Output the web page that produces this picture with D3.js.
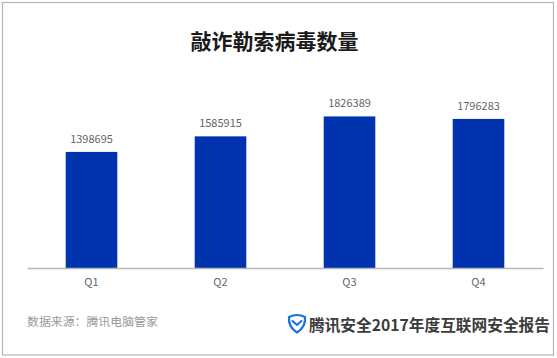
<!DOCTYPE html>
<html><head><meta charset="utf-8">
<script src="https://cdn.jsdelivr.net/npm/d3@7/dist/d3.min.js"></script>
<style>html,body{margin:0;padding:0;background:#fff}svg{display:block}</style>
</head><body><svg id="c" width="557" height="358"></svg>
<script>
const categories = ["Q1","Q2","Q3","Q4"];
const values = [1398695,1585915,1826389,1796283];
const titleText = "敲诈勒索病毒数量";
const sourceText = "数据来源：腾讯电脑管家";
const reportText = "腾讯安全2017年度互联网安全报告";
const cjk = '"Noto Sans CJK SC","Noto Sans",sans-serif';

const svg = d3.select("#c");
svg.append("rect").attr("x",2.5).attr("y",2.5).attr("width",551).attr("height",352.5)
  .attr("fill","#fff").attr("stroke","#b4b4b4").attr("stroke-width",1.2);

const x = d3.scaleBand().domain(categories).range([27,543]).paddingInner(0.6).paddingOuter(0.3);
const y = d3.scaleLinear().domain([0,2000000]).range([268,102]);

svg.selectAll("rect.bar").data(values).join("rect").attr("class","bar")
  .attr("x",(d,i)=>x(categories[i])).attr("width",x.bandwidth())
  .attr("y",d=>y(d)).attr("height",d=>y(0)-y(d)).attr("fill","#0033ad");

const axis = svg.append("g").attr("transform","translate(0,268)")
  .call(d3.axisBottom(x).tickSize(0).tickPadding(10));
axis.select(".domain").attr("stroke","#b8b8b8").attr("stroke-width",1.4);
axis.selectAll("text").attr("font-family",cjk).attr("font-size",11).attr("fill","#666");

svg.selectAll("text.val").data(values).join("text").attr("class","val")
  .attr("x",(d,i)=>x(categories[i])+x.bandwidth()/2).attr("y",d=>y(d)-9)
  .attr("text-anchor","middle").attr("font-family",cjk).attr("font-size",11).attr("fill","#666")
  .text(d=>d);

svg.append("text").attr("x",274.5).attr("y",49).attr("text-anchor","middle")
  .attr("font-family",cjk).attr("font-size",21).attr("font-weight",700).attr("fill","#1a1a1a").text(titleText);

svg.append("text").attr("x",27).attr("y",326).attr("font-family",cjk).attr("font-size",11.9)
  .attr("fill","#999").text(sourceText);

svg.append("text").attr("x",309).attr("y",331).attr("font-family",cjk).attr("font-size",15.7)
  .attr("font-weight",700).attr("fill","#3c3c3c").text(reportText);

const logo = svg.append("g").attr("transform","translate(288,314)").attr("fill","none")
  .attr("stroke","#1a6fe0").attr("stroke-linejoin","round").attr("stroke-linecap","round");
logo.append("path").attr("stroke-width",2.2)
  .attr("d","M1,3 Q9,-1 17,3 Q18,13 9,18.5 Q0,13 1,3 Z");
logo.append("path").attr("stroke-width",2).attr("d","M4.5,7 L9,11 L13.5,7");
</script></body></html>
